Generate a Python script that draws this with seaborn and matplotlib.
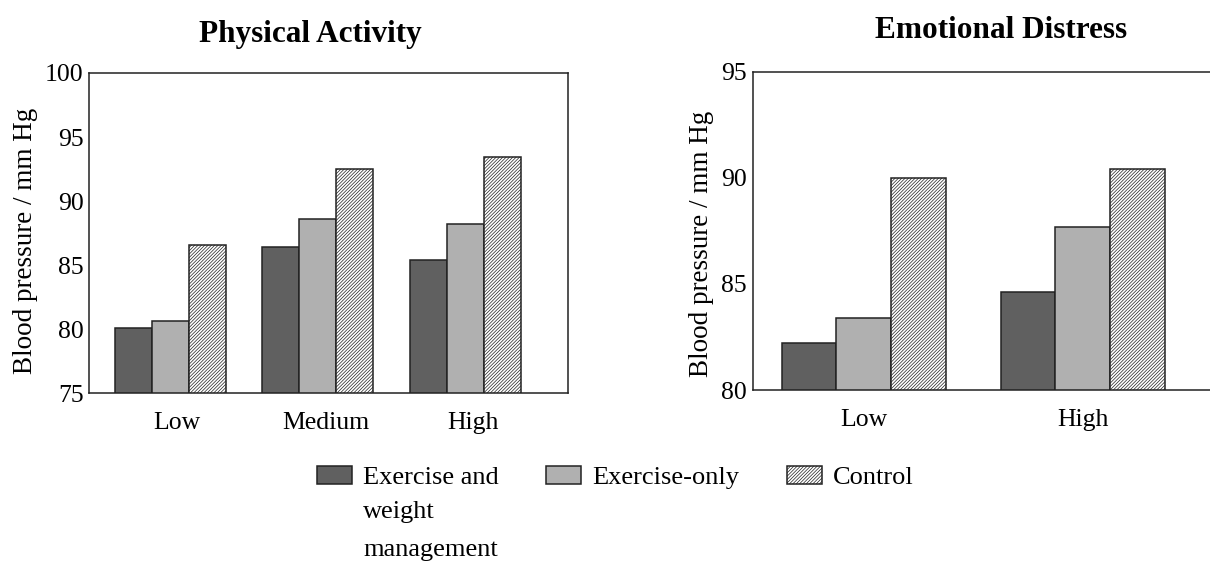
import numpy as np
import pandas as pd
import matplotlib
matplotlib.use('Agg')
import matplotlib.pyplot as plt
import seaborn as sns

# data
groups = ['Exercise and weight management', 'Exercise-only', 'Control']
activity_levels = ['Low', 'Medium', 'High']
activity_ewm = [80.1, 86.4, 85.4]
activity_ex = [80.6, 88.6, 88.2]
activity_ctl = [86.6, 92.5, 93.4]
distress_levels = ['Low', 'High']
distress_ewm = [82.2, 84.6]
distress_ex = [83.4, 87.7]
distress_ctl = [90.0, 90.4]

sns.set_theme(style='white')
plt.rcParams['font.family'] = ['Liberation Serif', 'DejaVu Serif']
plt.rcParams['text.color'] = 'black'
plt.rcParams['axes.labelcolor'] = 'black'
plt.rcParams['hatch.linewidth'] = 0.5
plt.rcParams['hatch.color'] = '#333333'

colors = ['#606060', '#b0b0b0', '#ffffff']


def long_table(levels, a, b, c):
    rows = []
    for g, vals in zip(groups, [a, b, c]):
        for lvl, v in zip(levels, vals):
            rows.append({'level': lvl, 'group': g, 'bp': v})
    return pd.DataFrame(rows)


fig = plt.figure(figsize=(12.1, 5.65), dpi=100)
ax1 = fig.add_axes([0.0736, 0.3044, 0.3959, 0.5664])
ax2 = fig.add_axes([0.622, 0.3097, 0.410, 0.5633])

pa = long_table(activity_levels, activity_ewm, activity_ex, activity_ctl)
ed = long_table(distress_levels, distress_ewm, distress_ex, distress_ctl)

for ax, df, levels in [(ax1, pa, activity_levels), (ax2, ed, distress_levels)]:
    sns.barplot(data=df, x='level', y='bp', hue='group', order=levels,
                hue_order=groups, palette=colors, width=0.75, ax=ax,
                edgecolor='#222222', linewidth=1.1, saturation=1, legend=False)
    for bar in ax.containers[2]:
        bar.set_hatch('//////////')
    ax.set_xlabel('')
    ax.set_ylabel('Blood pressure / mm Hg', fontsize=19.5)
    ax.tick_params(axis='y', direction='in', length=6, width=1, colors='#222222',
                   labelsize=18.5, labelcolor='black', pad=4)
    ax.tick_params(axis='x', length=0, labelsize=18.5, labelcolor='black', pad=14)
    for s in ax.spines.values():
        s.set_color('#222222')
        s.set_linewidth(1.1)

ax1.set_ylim(75, 100)
ax1.set_yticks([75, 80, 85, 90, 95, 100])
ax1.set_xlim(-0.547, 2.69)
ax1.set_xticks(np.arange(3) + 0.05, activity_levels)
ax1.set_title('Physical Activity', fontsize=22.5, fontweight='bold', x=0.461, pad=22)
ax1.yaxis.set_label_coords(-0.107, 0.475)

ax2.set_ylim(80, 95)
ax2.set_yticks([80, 85, 90, 95])
ax2.set_xlim(-0.508, 1.758)
ax2.set_xticks(np.arange(2), distress_levels)
ax2.spines['right'].set_visible(False)
ax2.set_title('Emotional Distress', fontsize=22.5, fontweight='bold', pad=24)
ax2.yaxis.set_label_coords(-0.078, 0.46)

handles = [ax1.containers[i][0] for i in range(3)]
leg_labels = ['Exercise and', 'Exercise-only', 'Control']
leg = fig.legend(handles, leg_labels, loc='upper left', bbox_to_anchor=(0.2617, 0.175),
                 ncol=3, frameon=False, fontsize=19, handlelength=1.33,
                 handleheight=0.64, columnspacing=1.8, handletextpad=0.42,
                 borderpad=0, borderaxespad=0)
fig.text(0.3, 1 - 518 / 565, 'weight', fontsize=19, va='baseline')
fig.text(0.3, 1 - 556 / 565, 'management', fontsize=19, va='baseline')

fig.savefig('out.png', dpi=100)
